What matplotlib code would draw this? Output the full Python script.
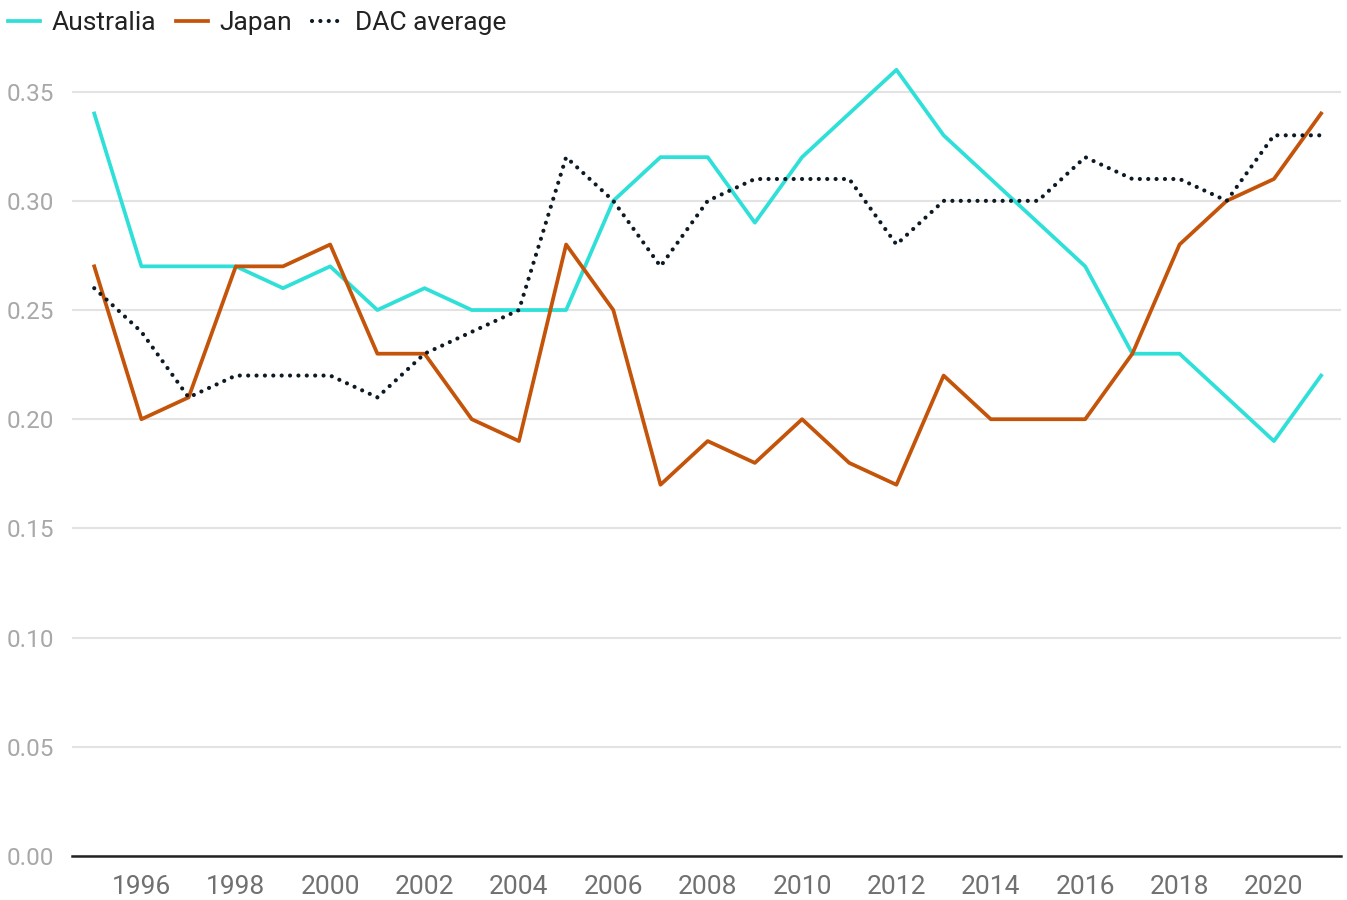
import matplotlib
matplotlib.use('Agg')
import matplotlib.pyplot as plt

years = list(range(1995, 2022))
australia = [0.34, 0.27, 0.27, 0.27, 0.26, 0.27, 0.25, 0.26, 0.25, 0.25,
             0.25, 0.30, 0.32, 0.32, 0.29, 0.32, 0.34, 0.36, 0.33, 0.31,
             0.29, 0.27, 0.23, 0.23, 0.21, 0.19, 0.22]
japan = [0.27, 0.20, 0.21, 0.27, 0.27, 0.28, 0.23, 0.23, 0.20, 0.19,
         0.28, 0.25, 0.17, 0.19, 0.18, 0.20, 0.18, 0.17, 0.22, 0.20,
         0.20, 0.20, 0.23, 0.28, 0.30, 0.31, 0.34]
dac_average = [0.26, 0.24, 0.21, 0.22, 0.22, 0.22, 0.21, 0.23, 0.24, 0.25,
               0.32, 0.30, 0.27, 0.30, 0.31, 0.31, 0.31, 0.28, 0.30, 0.30,
               0.30, 0.32, 0.31, 0.31, 0.30, 0.33, 0.33]
y_ticks = [0.00, 0.05, 0.10, 0.15, 0.20, 0.25, 0.30, 0.35]
x_ticks = list(range(1996, 2021, 2))

plt.rcParams['font.family'] = ['Roboto', 'DejaVu Sans']

fig = plt.figure(figsize=(13.47, 9.0), dpi=100)
ax = fig.add_axes([0.0535, 0.0489, 0.942, 0.8978])

ax.plot(years, australia, color='#2ee0d8', lw=2.7, label='Australia')
ax.plot(years, japan, color='#c4540a', lw=2.7, label='Japan')
ax.plot(years, dac_average, color='#0d1a24', lw=3.0, ls=(0, (0.01, 2.0)),
        dash_capstyle='round', label='DAC average')

ax.set_xlim(1994.53, 2021.42)
ax.set_ylim(0, 0.37)
ax.set_yticks(y_ticks)
ax.set_yticklabels([f'{v:.2f}' for v in y_ticks])
ax.set_xticks(x_ticks)
ax.set_xticklabels([str(y) for y in x_ticks])

ax.grid(axis='y', color='#e3e3e3', lw=1.5)
ax.set_axisbelow(True)
for side in ['top', 'right', 'left']:
    ax.spines[side].set_visible(False)
ax.spines['bottom'].set_color('#222222')
ax.spines['bottom'].set_linewidth(1.8)
ax.spines['bottom'].set_zorder(5)

ax.tick_params(axis='y', length=0, pad=13, labelsize=17.5, labelcolor='#a8a8a8')
ax.tick_params(axis='x', length=0, pad=14, labelsize=19, labelcolor='#707070')

fig.legend(loc='center left', bbox_to_anchor=(0.0, 0.9745), ncol=3, frameon=False,
           fontsize=19, handlelength=1.2, handletextpad=0.45, columnspacing=0.75,
           borderaxespad=0.0, borderpad=0.3, labelcolor='#222222')

fig.savefig('out.png', dpi=100)
